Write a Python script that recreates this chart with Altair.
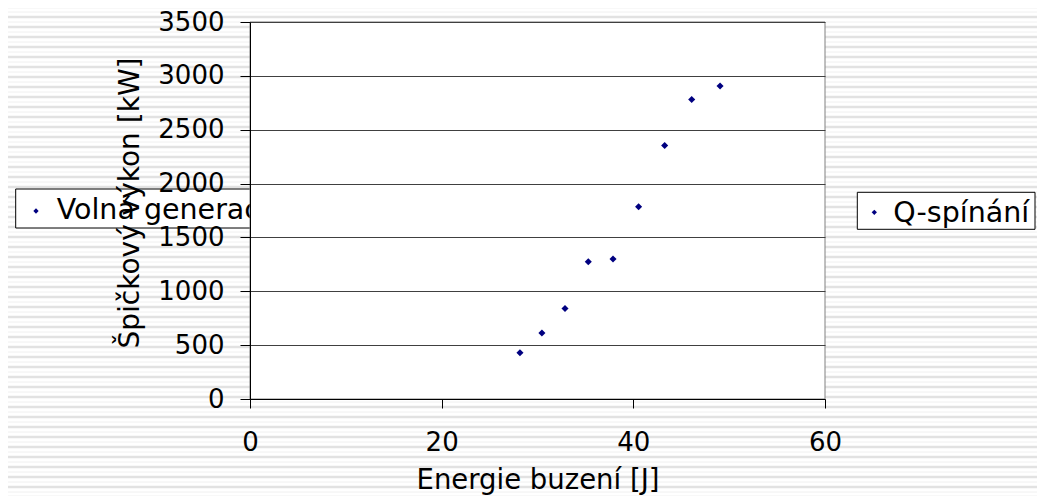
import altair as alt
import pandas as pd

# ---- data ----
energy = [28.17, 30.46, 32.87, 35.3, 37.88, 40.55, 43.27, 46.09, 49.05]
power = [430, 612, 841, 1274, 1299, 1784, 2353, 2780, 2906]
series_names = ["Volná generace", "Q-spínání"]
x_ticks = [0, 20, 40, 60]
y_ticks = [0, 500, 1000, 1500, 2000, 2500, 3000, 3500]
x_title = "Energie buzení [J]"
y_title = "Špičkový výkon [kW]"

W, H = 575, 377
FONT = "DejaVu Sans"
NAVY = "#000080"

df = pd.DataFrame({"energy": energy, "power": power, "series": series_names[1]})
one = pd.DataFrame({"a": [0]})

# background stripes (decoration)
stripes = (
    alt.Chart(alt.sequence(0, 52, as_="k"))
    .transform_calculate(sy="datum.k * 10 - 15")
    .mark_rule(color="#e2e2e2", strokeWidth=2.5, clip=False)
    .encode(x=alt.value(-242), x2=alt.value(787), y=alt.Y("sy:Q", scale=None))
)
stripes2 = (
    alt.Chart(alt.sequence(0, 52, as_="k"))
    .transform_calculate(sy="datum.k * 10 - 20")
    .mark_rule(color="#f0f0f0", strokeWidth=1, clip=False)
    .encode(x=alt.value(-242), x2=alt.value(787), y=alt.Y("sy:Q", scale=None))
)

# left legend box
left_box = alt.Chart(one).mark_rect(fill="white", stroke="black", strokeWidth=1).encode(
    x=alt.value(-234.3), x2=alt.value(20), y=alt.value(167), y2=alt.value(206)
)
left_dia = alt.Chart(one).mark_point(shape="diamond", filled=True, size=28, color=NAVY, opacity=1).encode(
    x=alt.value(-214), y=alt.value(189)
)
left_txt = alt.Chart(pd.DataFrame({"label": [series_names[0]]})).mark_text(
    font=FONT, fontSize=28.5, align="left", baseline="alphabetic", color="black"
).encode(x=alt.value(-193.3), y=alt.value(196.5), text="label:N")

# right legend box
right_box = alt.Chart(one).mark_rect(fill="white", stroke="black", strokeWidth=1).encode(
    x=alt.value(607.3), x2=alt.value(785), y=alt.value(170.3), y2=alt.value(207.3)
)
right_dia = alt.Chart(one).mark_point(shape="diamond", filled=True, size=28, color=NAVY, opacity=1).encode(
    x=alt.value(624.3), y=alt.value(190.3)
)
right_txt = alt.Chart(pd.DataFrame({"label": [series_names[1]]})).mark_text(
    font=FONT, fontSize=28.5, align="left", baseline="alphabetic", color="black"
).encode(x=alt.value(643.3), y=alt.value(199.7), text="label:N")

# plot area
plot_rect = alt.Chart(one).mark_rect(fill="white", stroke="#808080", strokeWidth=1).encode(
    x=alt.value(0), x2=alt.value(W), y=alt.value(0), y2=alt.value(H)
)

points = alt.Chart(df).mark_point(shape="diamond", filled=True, size=50, color=NAVY, opacity=1).encode(
    x=alt.X(
        "energy:Q",
        scale=alt.Scale(domain=[0, 60], nice=False, zero=True),
        axis=alt.Axis(
            values=x_ticks, grid=False, tickSize=9, tickColor="black", domainColor="black",
            labelFont=FONT, labelFontSize=26, labelColor="black", labelBaseline="alphabetic",
            labelPadding=42, labelFlush=False, labelOverlap=False, format="d",
            title=x_title, titleFont=FONT, titleFontSize=27.5, titleFontWeight="normal",
            titleColor="black", titleX=W / 2, titleY=89, titleAlign="center",
            titleBaseline="alphabetic", zindex=1,
        ),
    ),
    y=alt.Y(
        "power:Q",
        scale=alt.Scale(domain=[0, 3500], nice=False),
        axis=alt.Axis(
            values=y_ticks, grid=True, gridColor="#404040", gridWidth=1, tickSize=10,
            tickColor="black", domainColor="black", labelFont=FONT, labelFontSize=26,
            labelColor="black", labelPadding=16, labelFlush=False, labelOverlap=False, format="d",
            title=y_title, titleFont=FONT, titleFontSize=28, titleFontWeight="normal",
            titleColor="black", titleAngle=270, titleAlign="left", titleBaseline="alphabetic",
            titleX=-112, titleY=326, zindex=1,
        ),
    ),
)

chart = (
    alt.layer(stripes2, stripes, left_box, left_dia, left_txt, right_box, right_dia, right_txt, plot_rect, points)
    .properties(
        width=W,
        height=H,
        autosize=alt.AutoSizeParams(type="none"),
        padding={"left": 242, "top": 14, "right": 212, "bottom": 97},
        background="white",
    )
    .configure_view(stroke="transparent")
)

chart.save("out.html", embed_options={"renderer": "svg", "actions": False})
